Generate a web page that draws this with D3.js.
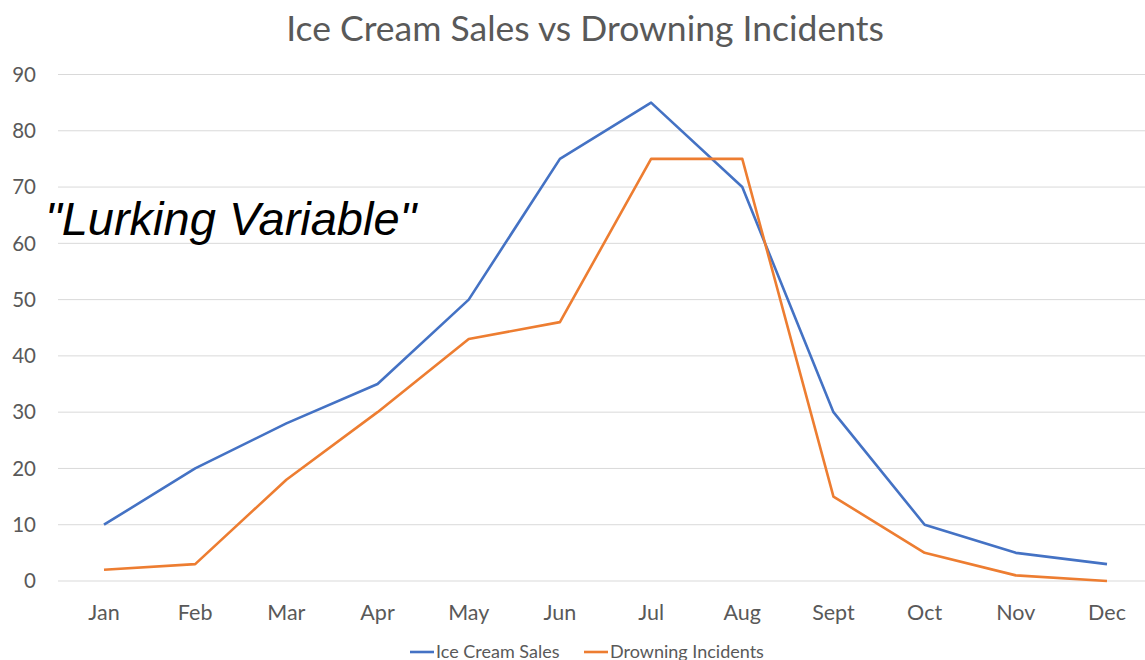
<!DOCTYPE html>
<html>
<head>
<meta charset="utf-8">
<script src="https://cdn.jsdelivr.net/npm/d3@7"></script>
<style>
  body { margin: 0; background: #fff; }
  svg { display: block; }
</style>
</head>
<body>
<svg id="chart" width="1145" height="660"></svg>
<script>
const months = ["Jan", "Feb", "Mar", "Apr", "May", "Jun", "Jul", "Aug", "Sept", "Oct", "Nov", "Dec"]
const iceCream = [10, 20, 28, 35, 50, 75, 85, 70, 30, 10, 5, 3]
const drowning = [2, 3, 18, 30, 43, 46, 75, 75, 15, 5, 1, 0]
const yTicks = [0, 10, 20, 30, 40, 50, 60, 70, 80, 90]
const seriesNames = ["Ice Cream Sales", "Drowning Incidents"]
const colors = ["#4472C4", "#ED7D31"]

const svg = d3.select("#chart")
const font = "Lato, 'Open Sans', sans-serif"

let x = d3.scalePoint()
    .domain(months)
    .range([104, 1107])

let y = d3.scaleLinear()
    .domain([0, 90])
    .range([581, 74.5])

// gridlines
svg.append("g")
    .selectAll("line")
    .data(yTicks)
    .join("line")
    .attr("x1", 58).attr("x2", 1153)
    .attr("y1", d => y(d)).attr("y2", d => y(d))
    .attr("stroke", "#d9d9d9")
    .attr("stroke-width", 1)

// y labels
svg.append("g")
    .selectAll("text")
    .data(yTicks)
    .join("text")
    .attr("x", 36)
    .attr("y", d => y(d))
    .attr("dy", "0.35em")
    .attr("text-anchor", "end")
    .attr("font-family", font)
    .attr("font-size", 20.5)
    .attr("fill", "#595959")
    .text(d => d)

// x labels
svg.append("g")
    .selectAll("text")
    .data(months)
    .join("text")
    .attr("x", d => x(d))
    .attr("y", 620)
    .attr("text-anchor", "middle")
    .attr("font-family", font)
    .attr("font-size", 21.5)
    .attr("fill", "#595959")
    .text(d => d)

// lines
let line = d3.line()
    .x((d, i) => x(months[i]))
    .y(d => y(d))

;[iceCream, drowning].forEach((s, k) => {
    svg.append("path")
        .attr("fill", "none")
        .attr("stroke", colors[k])
        .attr("stroke-width", 2.6)
        .attr("stroke-linejoin", "round")
        .attr("d", line(s))
})

// title
svg.append("text")
    .attr("x", 585)
    .attr("y", 41)
    .attr("text-anchor", "middle")
    .attr("font-family", font)
    .attr("font-size", 35.5)
    .attr("fill", "#595959")
    .text("Ice Cream Sales vs Drowning Incidents")

// annotation
svg.append("text")
    .attr("x", 45)
    .attr("y", 235)
    .attr("font-family", "'Liberation Sans', Arial, sans-serif")
    .attr("font-style", "italic")
    .attr("font-size", 47)
    .attr("fill", "#000")
    .text("\"Lurking Variable\"")

// legend
const legendX = [410, 584]
const legend = svg.append("g")
seriesNames.forEach((name, k) => {
    legend.append("line")
        .attr("x1", legendX[k]).attr("x2", legendX[k] + 24)
        .attr("y1", 652).attr("y2", 652)
        .attr("stroke", colors[k])
        .attr("stroke-width", 2.6)
    legend.append("text")
        .attr("x", legendX[k] + 26)
        .attr("y", 658)
        .attr("font-family", font)
        .attr("font-size", 18)
        .attr("fill", "#595959")
        .text(name)
})
</script>
</body>
</html>
